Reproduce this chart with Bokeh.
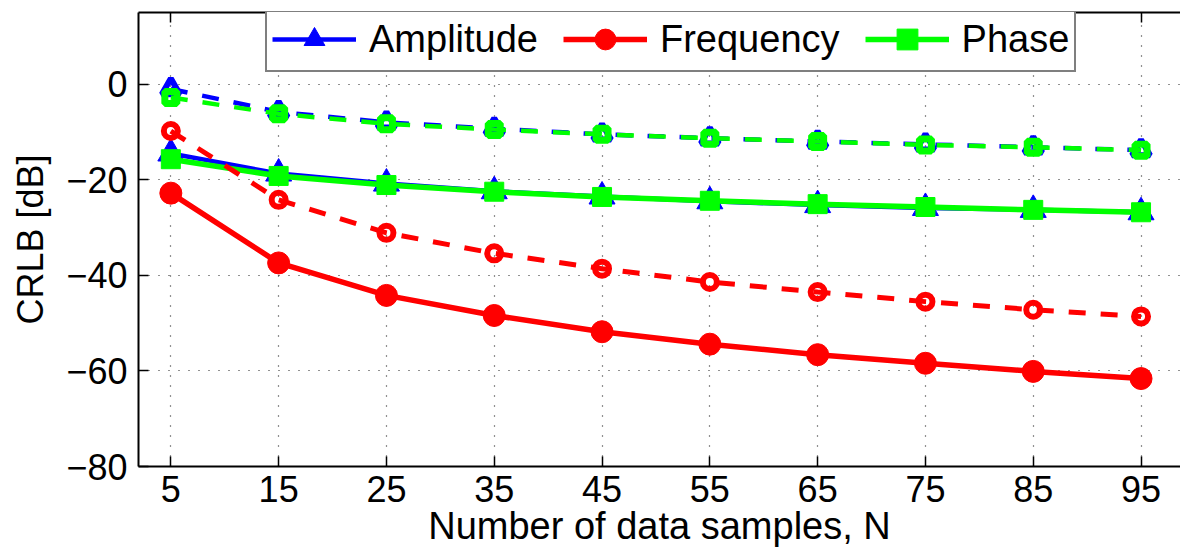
from bokeh.plotting import figure
from bokeh.models import Range1d, FixedTicker, LinearAxis, Legend, LegendItem
from bokeh.embed import file_html
from bokeh.resources import INLINE

# ---- data ----
n_samples = [5, 15, 25, 35, 45, 55, 65, 75, 85, 95]
amp_solid = [-14.5, -18.7, -20.8, -22.4, -23.5, -24.5, -25.3, -25.9, -26.3, -26.8]
amp_dashed = [-1.0, -5.8, -8.0, -9.3, -10.5, -11.3, -12.0, -12.6, -13.2, -13.8]
freq_solid = [-22.8, -37.4, -44.2, -48.4, -51.8, -54.4, -56.6, -58.4, -60.1, -61.6]
freq_dashed = [-9.8, -24.2, -31.1, -35.4, -38.6, -41.4, -43.5, -45.5, -47.2, -48.6]
phase_solid = [-15.7, -19.2, -21.1, -22.5, -23.6, -24.4, -25.1, -25.7, -26.3, -26.8]
phase_dashed = [-2.8, -6.2, -8.3, -9.5, -10.5, -11.3, -12.0, -12.7, -13.2, -13.8]

series_names = ["Amplitude", "Frequency", "Phase"]
x_ticks = [5, 15, 25, 35, 45, 55, 65, 75, 85, 95]
y_ticks = [-80, -60, -40, -20, 0]
y_tick_labels = ["\u221280", "\u221260", "\u221240", "\u221220", "0"]
x_label = "Number of data samples, N"
y_label = "CRLB [dB]"

FONT = "Liberation Sans"
BLUE, RED, GREEN = "#0000FF", "#FF0000", "#00FF00"

p = figure(width=1180, height=556,
           x_range=Range1d(2, 98.66), y_range=Range1d(-80, 15),
           output_backend="svg", toolbar_location=None,
           min_border_left=138, min_border_right=0,
           min_border_top=12, min_border_bottom=90)
p.outline_line_color = None
p.background_fill_color = "white"
p.border_fill_color = "white"

# axes
for ax in (p.xaxis[0], p.yaxis[0]):
    ax.major_tick_in = 10
    ax.major_tick_out = 0
    ax.minor_tick_line_color = None
    ax.axis_line_width = 2
    ax.major_tick_line_width = 1.5
    ax.axis_line_color = "black"
    ax.major_tick_line_color = "black"
    ax.major_label_text_font = FONT
    ax.major_label_text_font_size = "36px"
    ax.major_label_text_color = "black"
    ax.axis_label_text_font = FONT
    ax.axis_label_text_font_size = "36px"
    ax.axis_label_text_font_style = "normal"
    ax.axis_label_text_color = "black"

p.xaxis.ticker = FixedTicker(ticks=x_ticks)
p.yaxis.ticker = FixedTicker(ticks=y_ticks)
p.yaxis.major_label_overrides = {t: l for t, l in zip(y_ticks, y_tick_labels)}
p.xaxis.axis_label = x_label
p.yaxis.axis_label = y_label
p.xaxis.axis_label_text_font_size = "38px"
p.xaxis.major_label_standoff = 9
p.xaxis.axis_label_standoff = 0
p.yaxis.major_label_standoff = 11
p.yaxis.axis_label_standoff = 12

top = LinearAxis(ticker=FixedTicker(ticks=x_ticks), major_tick_in=10, major_tick_out=0,
                 minor_tick_line_color=None, axis_line_width=2, major_tick_line_width=1.5,
                 major_label_standoff=0,
                 major_label_overrides={t: "" for t in x_ticks},
                 axis_line_color="black", major_tick_line_color="black")
p.add_layout(top, "above")

# grid
for g, t in ((p.xgrid[0], x_ticks), (p.ygrid[0], y_ticks)):
    g.ticker = FixedTicker(ticks=t)
    g.grid_line_color = "#222222"
    g.grid_line_dash = "1 9"
    g.grid_line_width = 1.2

DASH = "17 15"

# amplitude
a_l = p.line(n_samples, amp_solid, line_color=BLUE, line_width=4.5)
a_m = p.scatter(n_samples, amp_solid, marker="triangle", size=26, fill_color=BLUE, line_color=BLUE)
p.line(n_samples, amp_dashed, line_color=BLUE, line_width=4.5, line_dash=DASH)
p.scatter(n_samples, amp_dashed, marker="triangle", size=18, fill_color=None, line_color=BLUE, line_width=6)

# phase
ph_l = p.line(n_samples, phase_solid, line_color=GREEN, line_width=5.5)
ph_m = p.scatter(n_samples, phase_solid, marker="square", size=19, fill_color=GREEN, line_color=GREEN)
p.line(n_samples, phase_dashed, line_color=GREEN, line_width=4.5, line_dash=DASH)
p.scatter(n_samples, phase_dashed, marker="square", size=12, fill_color=None, line_color=GREEN, line_width=7)

# frequency
f_l = p.line(n_samples, freq_solid, line_color=RED, line_width=5.5)
f_m = p.scatter(n_samples, freq_solid, marker="circle", size=22, fill_color=RED, line_color=RED)
p.line(n_samples, freq_dashed, line_color=RED, line_width=5, line_dash=DASH)
p.scatter(n_samples, freq_dashed, marker="circle", size=14, fill_color=None, line_color=RED, line_width=6)

legend = Legend(items=[
    LegendItem(label=series_names[0], renderers=[a_l, a_m]),
    LegendItem(label=series_names[1], renderers=[f_l, f_m]),
    LegendItem(label=series_names[2], renderers=[ph_l, ph_m]),
], orientation="horizontal", location=(127, 394),
    glyph_width=84, glyph_height=52, label_standoff=13, spacing=25,
    padding=5, margin=0,
    label_text_font=FONT, label_text_font_size="38px", label_text_color="black",
    border_line_color="black", border_line_width=2, background_fill_alpha=1.0)
p.add_layout(legend, "center")

open("out.html", "w").write(file_html(p, INLINE))
